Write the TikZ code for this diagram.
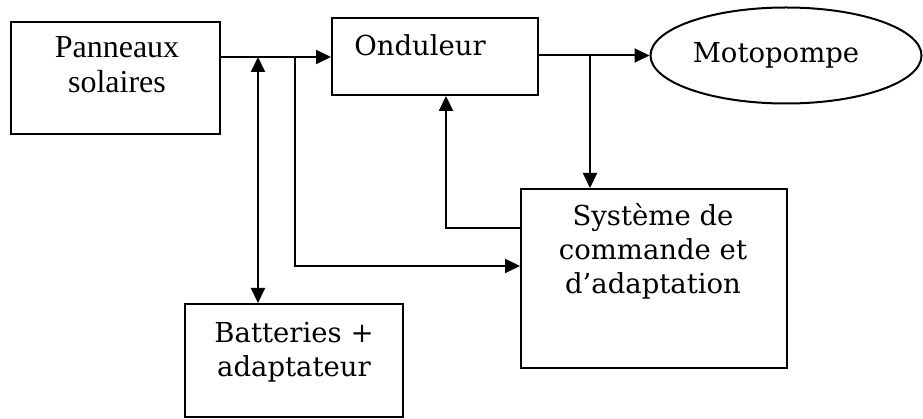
\documentclass[tikz,border=0pt]{standalone}
\usepackage{fontspec}
\setmainfont{DejaVu Serif}
\newfontfamily\timesfont{Liberation Serif}
\newcommand{\stacklines}[1]{\begin{tabular}[b]{@{}c@{}}#1\end{tabular}}
\usetikzlibrary{arrows.meta,shapes.geometric}
\begin{document}
\begin{tikzpicture}[x=1pt,y=-1pt,
  box/.style={draw, line width=2pt, inner sep=0pt},
  txt/.style={inner sep=0pt},
  serif/.style={font=\fontsize{27.5pt}{34pt}\selectfont},
  timesstyle/.style={font=\timesfont\fontsize{32pt}{35pt}\selectfont},
  conn/.style={line width=2pt},
  tip/.tip={Triangle[length=15pt,width=14pt]},
  arr/.style={conn, -tip},
]
\useasboundingbox (0,0) rectangle (923,419);
% boxes
\node[box, minimum width=209pt, minimum height=112pt] (pan) at (115.5,78) {};
\node[box, minimum width=206pt, minimum height=77pt] (ond) at (435,56.5) {};
\node[box, ellipse, minimum width=271pt, minimum height=96pt] (moto) at (786,55.5) {};
\node[box, minimum width=266pt, minimum height=179pt] (sys) at (654,278.5) {};
\node[box, minimum width=218pt, minimum height=113pt] (bat) at (294,360.5) {};
% texts
\node[txt, timesstyle, anchor=base] (pantxt) at (117,93) {\stacklines{Panneaux\\solaires}};
\node[txt, serif, anchor=base] (ondtxt) at (420,56) {Onduleur};
\node[txt, serif, anchor=base] (mototxt) at (776,63) {Motopompe};
\node[txt, serif, anchor=base] (systxt) at (653,294) {\stacklines{Système de\\commande et\\d’adaptation}};
\node[txt, serif, anchor=base] (battxt) at (294,376) {\stacklines{Batteries +\\adaptateur}};
% junctions
\coordinate (j1) at (258,57);
\coordinate (j2) at (295,57);
\coordinate (j3) at (590,55.5);
\coordinate (c1) at (295,266);
\coordinate (c2) at (446,228);
% connectors
\draw[arr] (pan.east |- j1) -- (ond.west |- j1);
\draw[conn, tip-tip] (j1) -- (bat.north -| j1);
\draw[arr] (j2) -- (c1) -- (sys.west |- c1);
\draw[arr] (ond.east |- j3) -- (moto.west);
\draw[arr] (j3) -- (sys.north -| j3);
\draw[arr] (sys.west |- c2) -- (c2) -- (ond.south -| c2);
\end{tikzpicture}
\end{document}
